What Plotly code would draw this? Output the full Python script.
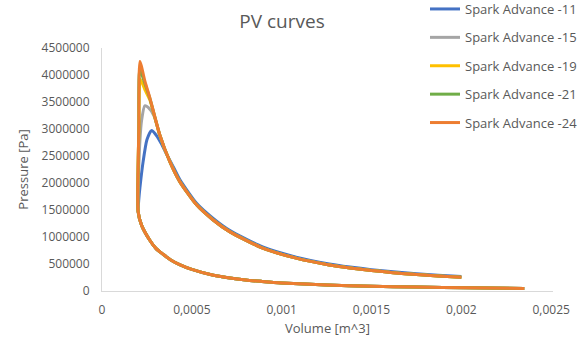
import plotly.graph_objects as go

# ---- data ----
series_names = ["Spark Advance -11", "Spark Advance -15", "Spark Advance -19",
                "Spark Advance -21", "Spark Advance -24"]
series_colors = ["#4472C4", "#A5A5A5", "#FFC000", "#70AD47", "#ED7D31"]

# compression stroke (BDC -> TDC), common to all runs
comp_V = [0.00235, 0.00204, 0.00175, 0.00150, 0.00125, 0.00100, 0.00089, 0.00080,
          0.00062, 0.00050, 0.000432, 0.000385, 0.00034, 0.00030, 0.000266, 0.00022, 0.000201]
comp_P = [48000, 58000, 72000, 88000, 112000, 150000, 178000, 205000,
          292000, 400000, 490000, 570000, 680000, 790000, 940000, 1220000, 1470000]

# combustion + expansion, per run
exp_V_11 = [0.000201, 0.000205, 0.000211, 0.000229, 0.000250, 0.000275, 0.000303,
            0.000330, 0.000360, 0.000400, 0.000432, 0.000525, 0.000617, 0.000710, 0.000894,
            0.00108, 0.001264, 0.00138, 0.00150, 0.00162, 0.00175, 0.00187, 0.00200]
exp_P_11 = [1470000, 1700000, 1910000, 2400000, 2800000, 2970000, 2880000,
            2730000, 2530000, 2280000, 2070000, 1630000, 1350000, 1125000, 815000,
            628000, 502000, 445000, 396000, 356000, 320000, 292000, 268000]

exp_V_15 = [0.000201, 0.000205, 0.000211, 0.000220, 0.000238, 0.000257, 0.000290,
            0.000321, 0.000377, 0.000432, 0.000525, 0.000617, 0.000710, 0.000894,
            0.00108, 0.001264, 0.00138, 0.00150, 0.00162, 0.00175, 0.00187, 0.00200]
exp_P_15 = [1470000, 2300000, 2780000, 3150000, 3430000, 3400000, 3240000,
            2890000, 2400000, 2030000, 1600000, 1320000, 1100000, 794000,
            608000, 483000, 427000, 379000, 340000, 304000, 277000, 253000]

exp_V_19 = [0.000201, 0.000205, 0.000213, 0.000240, 0.000266, 0.000321, 0.000377,
            0.000432, 0.000525, 0.000617, 0.000710, 0.000894, 0.00108, 0.001264,
            0.00138, 0.00150, 0.00162, 0.00175, 0.00187, 0.00200]
exp_P_19 = [1470000, 3000000, 3920000, 3720000, 3540000, 2890000, 2400000,
            2030000, 1600000, 1320000, 1100000, 794000, 608000, 483000,
            427000, 379000, 340000, 304000, 277000, 253000]

exp_V_21 = [0.000201, 0.000205, 0.000210, 0.000240, 0.000266, 0.000321, 0.000377,
            0.000432, 0.000525, 0.000617, 0.000710, 0.000894, 0.00108, 0.001264,
            0.00138, 0.00150, 0.00162, 0.00175, 0.00187, 0.00200]
exp_P_21 = [1470000, 3000000, 4100000, 3830000, 3570000, 2900000, 2400000,
            2030000, 1600000, 1320000, 1100000, 794000, 608000, 483000,
            427000, 379000, 340000, 304000, 277000, 253000]

exp_V_24 = [0.000201, 0.000205, 0.000211, 0.000240, 0.000266, 0.000321, 0.000377,
            0.000432, 0.000525, 0.000617, 0.000710, 0.000894, 0.00108, 0.001264,
            0.00138, 0.00150, 0.00162, 0.00175, 0.00187, 0.00200]
exp_P_24 = [1470000, 3000000, 4250000, 3870000, 3580000, 2900000, 2400000,
            2030000, 1600000, 1320000, 1100000, 794000, 608000, 483000,
            427000, 379000, 340000, 304000, 277000, 253000]

exp_V = [exp_V_11, exp_V_15, exp_V_19, exp_V_21, exp_V_24]
exp_P = [exp_P_11, exp_P_15, exp_P_19, exp_P_21, exp_P_24]

x_tickvals = [0, 0.0005, 0.001, 0.0015, 0.002, 0.0025]
x_ticktext = ["0", "0,0005", "0,001", "0,0015", "0,002", "0,0025"]
y_tickvals = [0, 500000, 1000000, 1500000, 2000000, 2500000, 3000000, 3500000, 4000000, 4500000]

W, H = 585, 347
FONT = "Open Sans"
GREY = "#595959"
PLOT_TOP, PLOT_BOTTOM = 48, 291

fig = go.Figure()
for i, name in enumerate(series_names):
    fig.add_trace(go.Scatter(
        x=comp_V + exp_V[i][1:], y=comp_P + exp_P[i][1:],
        mode="lines", name=name, legendgroup=name,
        line=dict(color=series_colors[i], width=3, shape="spline", smoothing=0.6),
    ))

fig.update_layout(
    width=W, height=H,
    margin=dict(l=102, r=32, t=PLOT_TOP, b=H - PLOT_BOTTOM, autoexpand=False),
    paper_bgcolor="white", plot_bgcolor="white",
    font=dict(family=FONT, color=GREY, size=12),
    title=dict(text="PV curves", font=dict(family=FONT, size=19, color=GREY),
               x=282 / W, xref="container", xanchor="center",
               y=1 - 21 / H, yref="container", yanchor="middle"),
    legend=dict(x=425 / W, xref="container", xanchor="left",
                y=(PLOT_BOTTOM + 6) / (PLOT_BOTTOM - PLOT_TOP), yref="paper", yanchor="top",
                font=dict(family=FONT, size=13, color=GREY),
                tracegroupgap=8.5, bgcolor="rgba(0,0,0,0)"),
    showlegend=True,
)
fig.update_xaxes(range=[0, 0.00251], tickvals=x_tickvals, ticktext=x_ticktext,
                 showgrid=False, zeroline=False, showline=True, linecolor="#D9D9D9",
                 linewidth=1, ticks="", ticklabelstandoff=8,
                 tickfont=dict(family=FONT, size=12, color=GREY),
                 title=dict(text="Volume [m^3]", font=dict(family=FONT, size=13, color=GREY),
                            standoff=6))
fig.update_yaxes(range=[0, 4500000], tickvals=y_tickvals, tickformat="d",
                 showgrid=False, zeroline=False, showline=True, linecolor="#D9D9D9",
                 linewidth=1, ticks="", ticklabelstandoff=9,
                 tickfont=dict(family=FONT, size=12, color=GREY),
                 title=dict(text="Pressure [Pa]", font=dict(family=FONT, size=13, color=GREY),
                            standoff=10))

fig.write_html("out.html")
